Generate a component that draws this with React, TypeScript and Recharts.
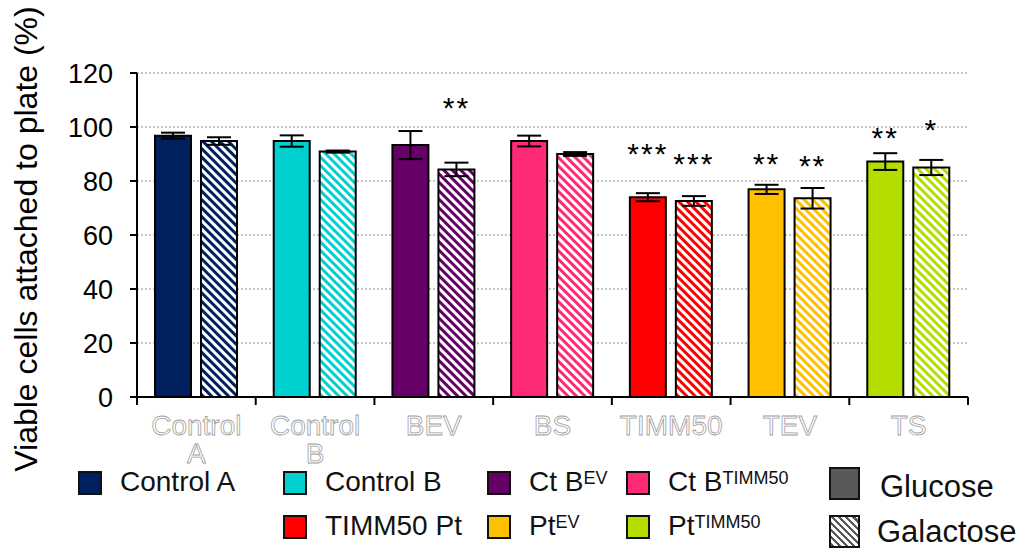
import React from 'react';
import { BarChart, Bar, XAxis, YAxis, CartesianGrid, ErrorBar, Cell, LabelList } from 'recharts';

const categories = ['Control A', 'Control B', 'BEV', 'BS', 'TIMM50', 'TEV', 'TS'];
const glucose = [96.8, 94.8, 93.3, 94.8, 74.0, 76.9, 87.2];
const glucoseErr = [1.1, 2.1, 5.2, 2.0, 1.5, 1.7, 3.1];
const galactose = [94.8, 90.9, 84.3, 90.0, 72.6, 73.6, 85.0];
const galactoseErr = [1.4, 0.4, 2.5, 0.7, 1.8, 3.8, 2.8];
const glucoseStars = ['', '', '', '', '***', '**', '**'];
const glucoseStarAt = [0, 0, 0, 0, 92.5, 88.8, 98.6];
const galactoseStars = ['', '', '**', '', '***', '**', '*'];
const galactoseStarAt = [0, 0, 109.7, 0, 88.8, 88.1, 101.6];
const colors = ['#002060', '#00D0D0', '#660066', '#FF2A76', '#FF0000', '#FFC000', '#B3DE00'];
const yTicks = [0, 20, 40, 60, 80, 100, 120];

const legendNames = ['Control A', 'Control B', 'Ct B', 'Ct B', 'TIMM50 Pt', 'Pt', 'Pt'];
const legendSups = ['', '', 'EV', 'TIMM50', '', 'EV', 'TIMM50'];

const FONT = '"Liberation Sans", Arial, sans-serif';

// plot box
const W = 1022;
const H = 557;
const PLOT_LEFT = 137;
const PLOT_RIGHT = 968;
const BAND = (PLOT_RIGHT - PLOT_LEFT) / categories.length;

const data = categories.map((name, i) => ({
  name,
  glu: glucose[i],
  gluErr: glucoseErr[i],
  gal: galactose[i],
  galErr: galactoseErr[i],
  gluStar: glucoseStars[i],
  galStar: galactoseStars[i],
}));

// category label + tick marks on the category boundaries
const XTick = ({ x, y, payload, index }: any) => {
  const lines = String(payload.value).split(' ');
  const left = x - BAND / 2;
  const right = x + BAND / 2;
  return (
    <g>
      <line x1={left} y1={y} x2={left} y2={y + 8} stroke="#000" strokeWidth={2} />
      {index === categories.length - 1 && (
        <line x1={right} y1={y} x2={right} y2={y + 8} stroke="#000" strokeWidth={2} />
      )}
      <text
        x={x}
        y={y}
        textAnchor="middle"
        fill="#ffffff"
        stroke="#a0a0a0"
        strokeWidth={0.8}
        fontSize={28}
        fontFamily={FONT}
      >
        {lines.map((l, i) => (
          <tspan key={i} x={x} dy={i === 0 ? 38 : 28}>
            {l}
          </tspan>
        ))}
      </text>
    </g>
  );
};

const YTitle = () => (
  <text
    transform="translate(26,239) rotate(-90)"
    textAnchor="middle"
    dominantBaseline="central"
    fontSize={32}
    fontFamily={FONT}
    fill="#000"
  >
    Viable cells attached to plate (%)
  </text>
);

// star text placed at a value height, using the bar's own pixel scale
const starLabel = (values: number[], starAt: number[]) => (props: any) => {
  const { x, y, width, height, value, index } = props;
  if (!value) return null;
  const zero = y + height;
  const perUnit = height / values[index];
  const cy = zero - starAt[index] * perUnit;
  return (
    <text
      x={x + width / 2}
      y={cy + 17}
      textAnchor="middle"
      fontSize={30}
      letterSpacing={2}
      fontFamily={FONT}
      fill="#000"
    >
      {value}
    </text>
  );
};

const legendCols = [78, 283, 487, 626];
const legendSlots = [
  [0, 0], [0, 1], [0, 2], [0, 3],
  [1, 1], [1, 2], [1, 3],
];
const legendRows = [483, 527];

const Legend = () => (
  <div style={{ position: 'absolute', left: 0, top: 0, width: W, height: H, pointerEvents: 'none', fontFamily: FONT }}>
    {legendNames.map((n, i) => {
      const [r, c] = legendSlots[i];
      const cy = legendRows[r];
      return (
        <React.Fragment key={i}>
          <div
            style={{
              position: 'absolute',
              left: legendCols[c],
              top: cy - 12,
              width: 24,
              height: 24,
              boxSizing: 'border-box',
              border: '2px solid #111',
              background: colors[i],
            }}
          />
          <div
            style={{
              position: 'absolute',
              left: legendCols[c] + 42,
              top: cy - 18,
              fontSize: 28,
              lineHeight: '34px',
              whiteSpace: 'nowrap',
              color: '#111',
            }}
          >
            {n}
            {legendSups[i] && (
              <span style={{ fontSize: 18, verticalAlign: 'top', position: 'relative', top: -4 }}>{legendSups[i]}</span>
            )}
          </div>
        </React.Fragment>
      );
    })}
    <div style={{ position: 'absolute', left: 829, top: 467, width: 31, height: 33, boxSizing: 'border-box', border: '2px solid #111', background: '#595959' }} />
    <div style={{ position: 'absolute', left: 880, top: 469, fontSize: 31, lineHeight: '36px', color: '#111' }}>Glucose</div>
    <div
      style={{
        position: 'absolute',
        left: 829,
        top: 515,
        width: 31,
        height: 33,
        boxSizing: 'border-box',
        border: '2px solid #111',
        background: 'repeating-linear-gradient(45deg, #595959 0px, #595959 2.5px, #ffffff 2.5px, #ffffff 5px)',
      }}
    />
    <div style={{ position: 'absolute', left: 877, top: 514, fontSize: 31, lineHeight: '36px', color: '#111' }}>Galactose</div>
  </div>
);

export default function App() {
  return (
    <div style={{ position: 'absolute', left: 0, top: 0, width: W, height: H, background: '#fff' }}>
      <BarChart
        width={W}
        height={H}
        data={data}
        margin={{ top: 73, right: W - PLOT_RIGHT, left: 0, bottom: 90 }}
        barSize={36}
        barGap={10}
      >
        <defs>
          {colors.map((c, i) => (
            <pattern
              key={i}
              id={`hatch-${i}`}
              width={6}
              height={6}
              patternUnits="userSpaceOnUse"
              patternTransform="rotate(-45)"
            >
              <rect width={6} height={6} fill="#ffffff" />
              <rect width={3} height={6} fill={c} />
            </pattern>
          ))}
        </defs>
        <CartesianGrid vertical={false} stroke="#c4c4c4" strokeWidth={2} strokeDasharray="2 2" />
        <XAxis
          dataKey="name"
          height={70}
          interval={0}
          axisLine={{ stroke: '#000', strokeWidth: 2 }}
          tickLine={false}
          tickSize={0}
          tickMargin={0}
          tick={<XTick />}
        />
        <YAxis
          domain={[0, 120]}
          ticks={yTicks}
          width={PLOT_LEFT}
          tickSize={7}
          tickMargin={17}
          axisLine={{ stroke: '#000', strokeWidth: 2 }}
          tickLine={{ stroke: '#000', strokeWidth: 2 }}
          tick={{ fontSize: 27, fill: '#000', fontFamily: FONT }}
          label={<YTitle />}
        />
        <Bar dataKey="glu" stroke="#000" strokeWidth={2} isAnimationActive={false}>
          {data.map((d, i) => (
            <Cell key={i} fill={colors[i]} />
          ))}
          <ErrorBar dataKey="gluErr" width={12} stroke="#000" strokeWidth={2} />
          <LabelList dataKey="gluStar" content={starLabel(glucose, glucoseStarAt)} />
        </Bar>
        <Bar dataKey="gal" stroke="#000" strokeWidth={2} isAnimationActive={false}>
          {data.map((d, i) => (
            <Cell key={i} fill={`url(#hatch-${i})`} />
          ))}
          <ErrorBar dataKey="galErr" width={12} stroke="#000" strokeWidth={2} />
          <LabelList dataKey="galStar" content={starLabel(galactose, galactoseStarAt)} />
        </Bar>
      </BarChart>
      <Legend />
    </div>
  );
}
